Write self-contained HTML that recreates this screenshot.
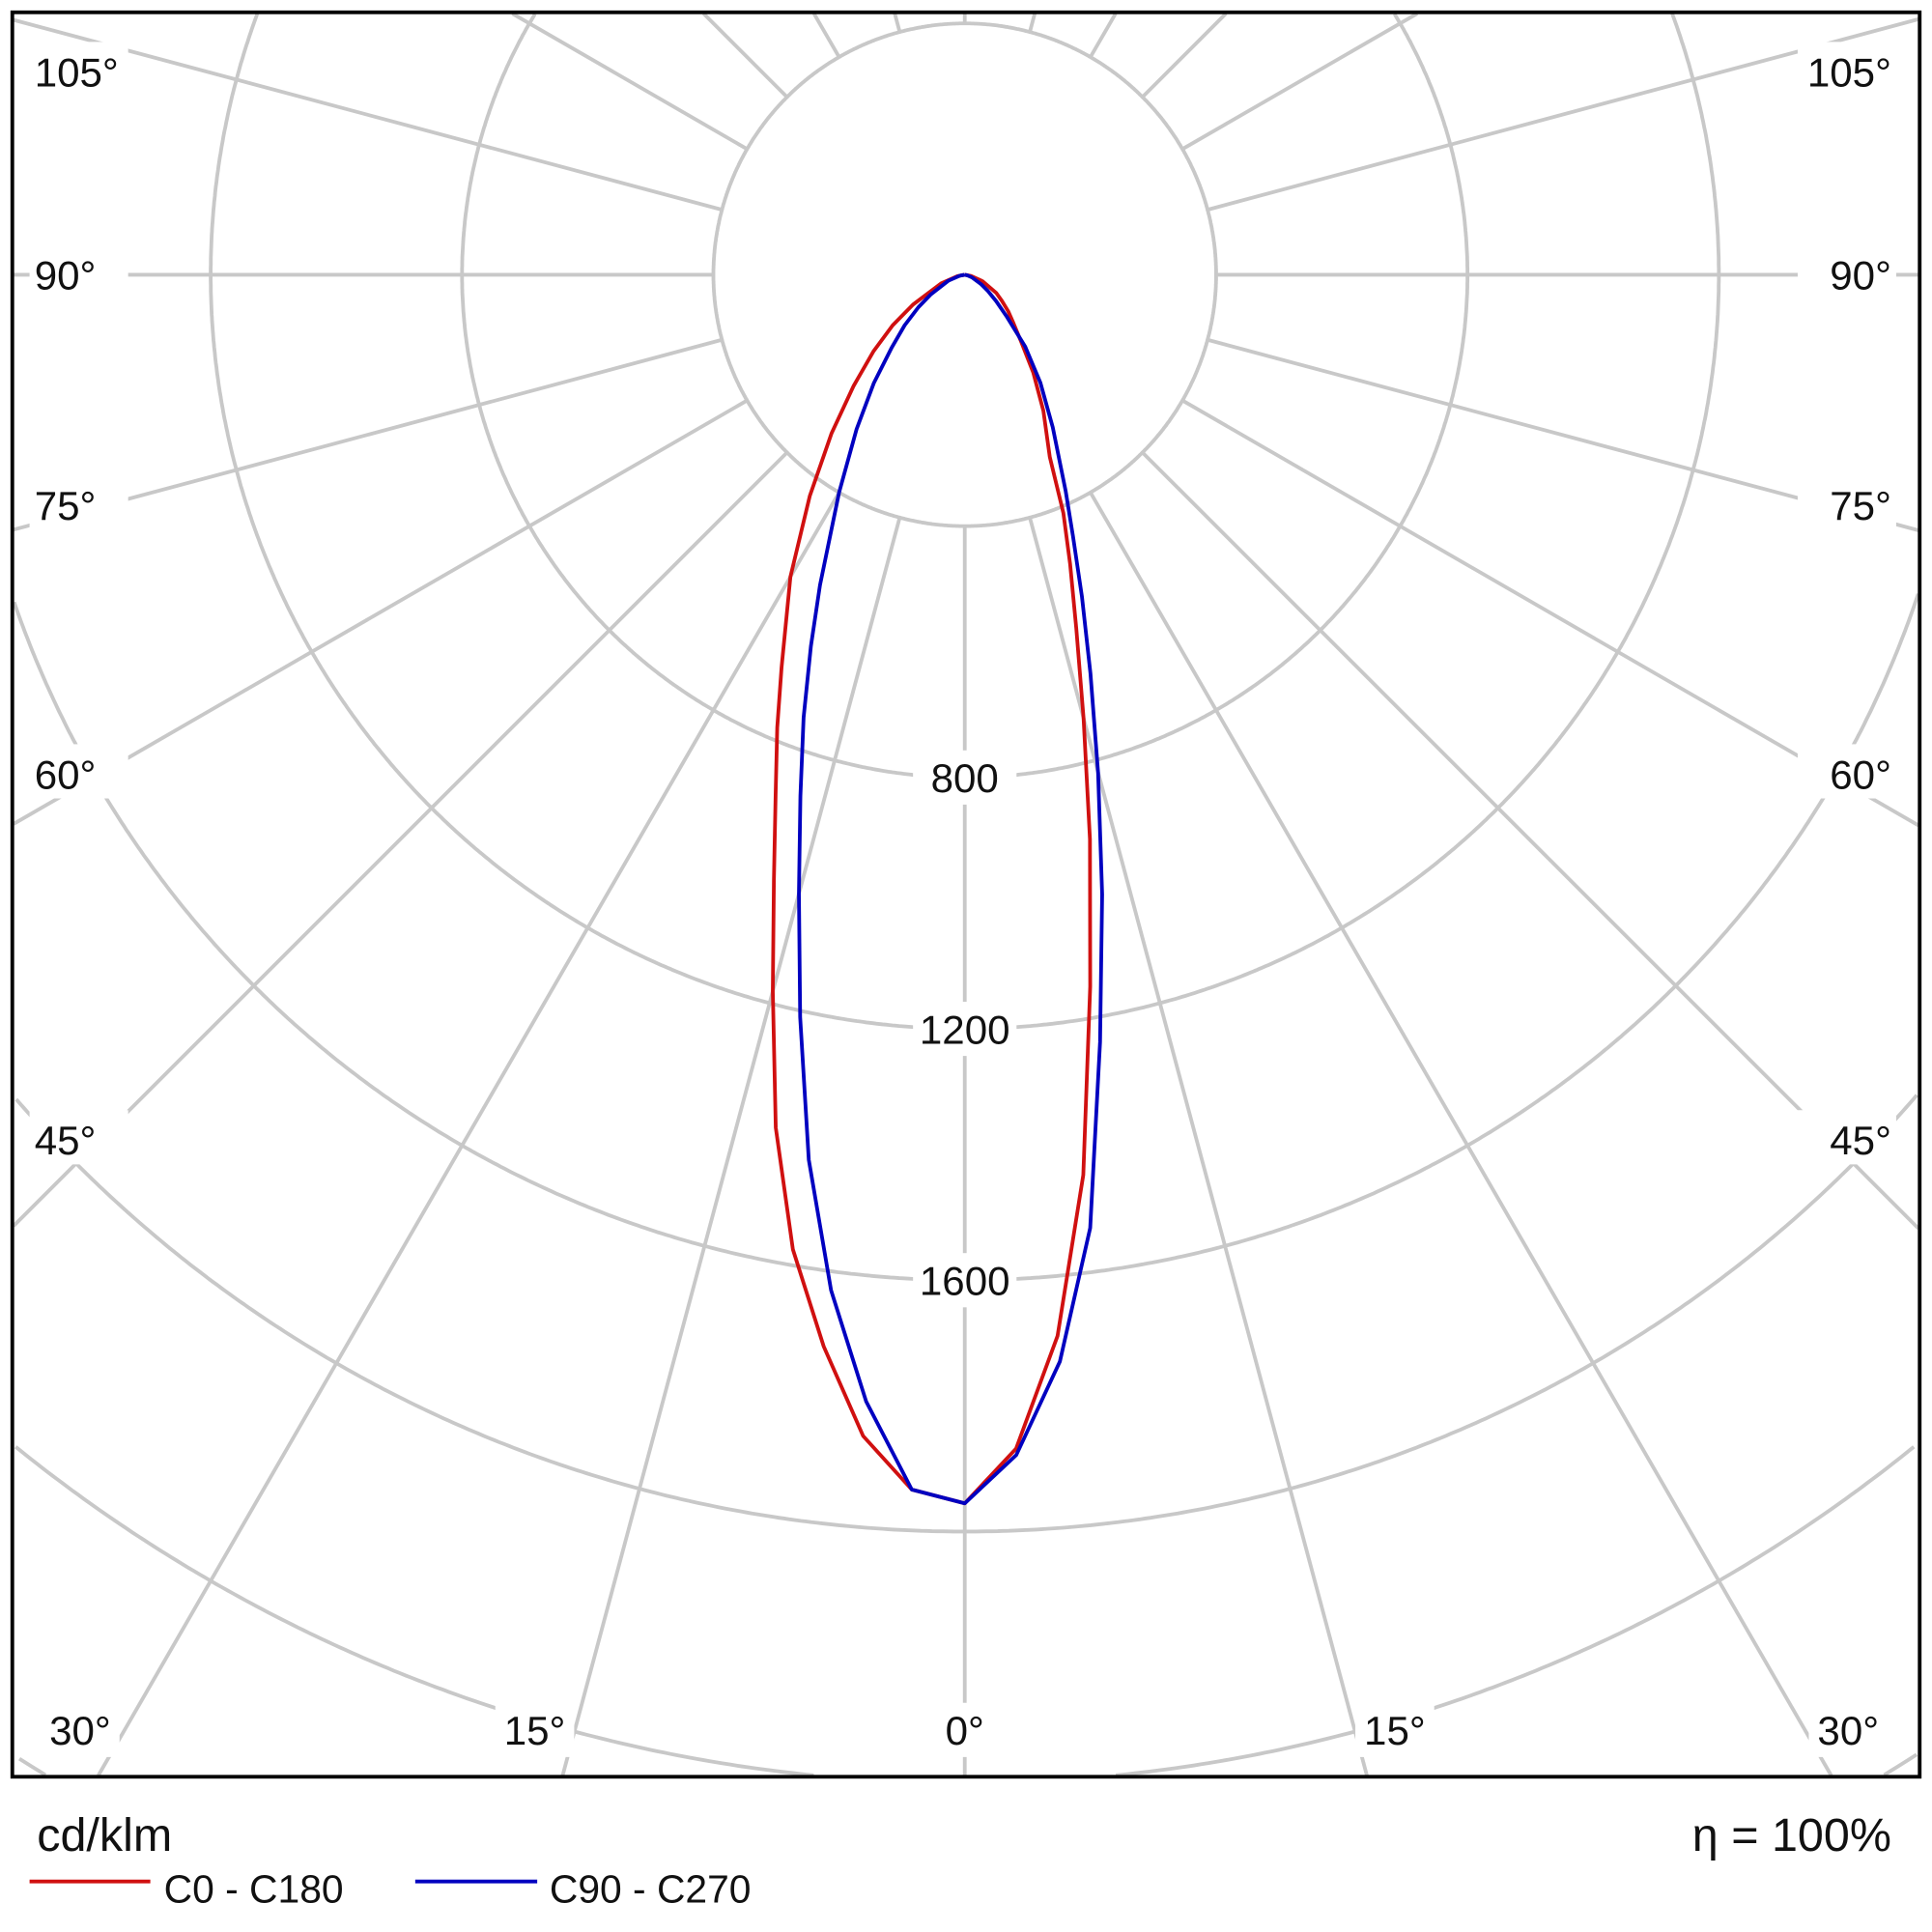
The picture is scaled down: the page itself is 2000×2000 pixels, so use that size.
<!DOCTYPE html>
<html><head><meta charset="utf-8"><style>
html,body{margin:0;padding:0;background:#fff;overflow:hidden;width:2000px;height:2000px;}
svg{display:block;}
text{font-family:"Liberation Sans",sans-serif;fill:#111;}
</style></head><body>
<svg id="chart" width="2000" height="2000" viewBox="0 0 1568 1568" xmlns="http://www.w3.org/2000/svg">
<rect x="0" y="0" width="1568" height="1568" fill="#fff"/>
<g id="grid"></g>
<g id="series"></g>
<g id="labels"></g>
<rect x="10" y="10" width="1548" height="1432" fill="none" stroke="#000" stroke-width="3"/>
<text x="30" y="1502" font-size="38">cd/klm</text>
<text x="1535" y="1502" font-size="38" text-anchor="end">η = 100%</text>
<line x1="24" y1="1527" x2="122" y2="1527" stroke="#d01010" stroke-width="3"/>
<text x="133" y="1544" font-size="32">C0 - C180</text>
<line x1="337" y1="1527" x2="436" y2="1527" stroke="#0000c0" stroke-width="3"/>
<text x="446" y="1544" font-size="32">C90 - C270</text>
</svg>
<script>
const angles = [0,2.5,5,7.5,10,12.5,15,17.5,20,22.5,25,30,35,40,45,50,55,60,70,80,90];
const c0Values   = [1955,1935,1855,1720,1575,1390,1180,1010,880,780,690,555,430,330,250,190,140,95,40,12,0];
const c180Values = [1955,1870,1695,1445,1150,920,730,590,490,410,320,250,190,140,110,90,72,58,30,10,0];
const c270Values = [1955,1935,1800,1630,1430,1210,1020,870,750,640,545,400,300,225,165,125,90,62,28,8,0];
const c90Values  = [1955,1880,1736,1530,1240,1010,820,665,545,450,380,280,210,150,95,65,45,30,12,4,0];
const ringValues = [400,800,1200,1600,2000,2400,2800];
const ringLabels = ["800","1200","1600"];
const spokeAngles = [0,15,30,45,60,75,90,105,120,135,150,165,180];
const sideLabels = ["105°","90°","75°","60°","45°"];
const bottomLabels = ["30°","15°","0°","15°","30°"];

const NS="http://www.w3.org/2000/svg";
const cx=783, cy=223, k=0.51;
const FX0=11, FY0=11, FX1=1557, FY1=1441;
function rScale(v){return v*k;}
function pt(angleDeg, v, side){
  const a=angleDeg*Math.PI/180, r=rScale(v);
  return [cx+side*r*Math.sin(a), cy+r*Math.cos(a)];
}
function inside(p){return p[0]>=FX0&&p[0]<=FX1&&p[1]>=FY0&&p[1]<=FY1;}
function mk(tag,attrs,parent){const e=document.createElementNS(NS,tag);for(const key in attrs)e.setAttribute(key,attrs[key]);parent.appendChild(e);return e;}
const grid=document.getElementById('grid');
ringValues.forEach(v=>{
  const r=rScale(v);
  let d='', pen=false;
  for(let i=0;i<=1440;i++){
    const t=i/1440*2*Math.PI;
    const p=[cx+r*Math.sin(t), cy+r*Math.cos(t)];
    if(inside(p)){d+=(pen?'L':'M')+p[0].toFixed(1)+','+p[1].toFixed(1);pen=true;}
    else pen=false;
  }
  const c=mk('path',{d:d,fill:'none',stroke:'#c8c8c8','stroke-width':3},grid);
  
  
});
spokeAngles.forEach(a=>{
  [-1,1].forEach(s=>{
    if((a===0||a===180)&&s===1)return;
    const p1=pt(a,400,s);
    const dx=s*Math.sin(a*Math.PI/180), dy=Math.cos(a*Math.PI/180);
    let tmax=1e9;
    if(dx>1e-9)tmax=Math.min(tmax,(FX1-cx)/dx);
    if(dx<-1e-9)tmax=Math.min(tmax,(FX0-cx)/dx);
    if(dy>1e-9)tmax=Math.min(tmax,(FY1-cy)/dy);
    if(dy<-1e-9)tmax=Math.min(tmax,(FY0-cy)/dy);
    const p2=[cx+dx*tmax, cy+dy*tmax];
    const l=mk('line',{x1:p1[0],y1:p1[1],x2:p2[0],y2:p2[1],stroke:'#c8c8c8','stroke-width':3},grid);
    
    
  });
});
const series=document.getElementById('series');
function curve(left,right,color,name){
  const pts=[];
  for(let i=angles.length-1;i>=0;i--)pts.push(pt(angles[i],left[i],-1));
  for(let i=0;i<angles.length;i++)pts.push(pt(angles[i],right[i],1));
  const p=mk('polyline',{points:pts.map(q=>q[0].toFixed(1)+','+q[1].toFixed(1)).join(' '),fill:'none',stroke:color,'stroke-width':3,'stroke-linejoin':'round'},series);
  
  
}
curve(c0Values,c180Values,'#d01010','curve-c0-c180');
curve(c270Values,c90Values,'#0000c0','curve-c90-c270');
const labels=document.getElementById('labels');
ringLabels.forEach((t,i)=>{
  const y=cy+rScale([800,1200,1600][i]);
  const r=mk('rect',{x:cx-42,y:y-22,width:84,height:44,fill:'#fff'},labels);
  
  
  const tx=mk('text',{x:cx,y:y+12,'font-size':33,'text-anchor':'middle'},labels);
  tx.textContent=t;
  
  
});
const sideY=[58,223,410,628,925];
sideLabels.forEach((t,i)=>{
  [[28,'start'],[1535,'end']].forEach(([x,anc])=>{
    const r=mk('rect',{x:anc==='start'?x-4:x-76,y:sideY[i]-24,width:80,height:44,fill:'#fff'},labels);
    
    
    const tx=mk('text',{x:x,y:sideY[i]+12,'font-size':33,'text-anchor':anc},labels);
    tx.textContent=t;
    
    
  });
});
const bottomX=[65,434,783,1132,1500];
bottomLabels.forEach((t,i)=>{
  const r=mk('rect',{x:bottomX[i]-32,y:1382,width:64,height:44,fill:'#fff'},labels);
  
  
  const tx=mk('text',{x:bottomX[i],y:1416,'font-size':33,'text-anchor':'middle'},labels);
  tx.textContent=t;
  
  
});
</script>
</body></html>
